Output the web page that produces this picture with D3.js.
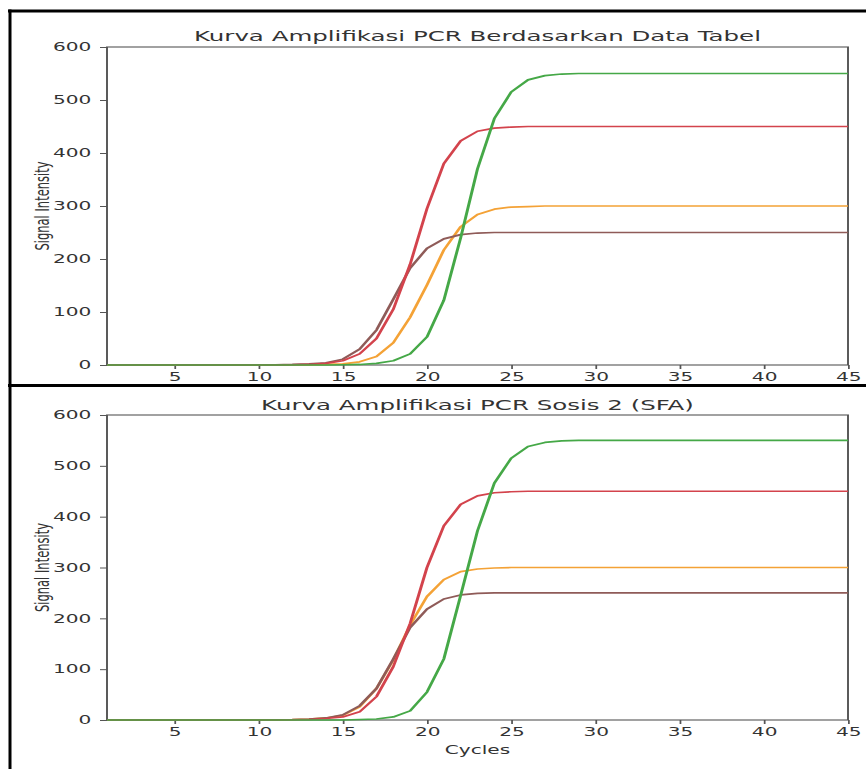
<!DOCTYPE html>
<html>
<head>
<meta charset="utf-8">
<script src="https://cdn.jsdelivr.net/npm/d3@7"></script>
<style>
body { margin: 0; background: #ffffff; }
svg text { font-family: "DejaVu Sans", sans-serif; fill: #333333; }
</style>
</head>
<body>
<svg id="chart" width="866" height="769"></svg>
<script>
var cycles = [1,2,3,4,5,6,7,8,9,10,11,12,13,14,15,16,17,18,19,20,21,22,23,
	24,25,26,27,28,29,30,31,32,33,34,35,36,37,38,39,40,41,42,43,44,45];

// top panel : Kurva Amplifikasi PCR Berdasarkan Data Tabel
var topGreen = [0,0,0,0,0,0,0,0,0,0,0,0,0,0,
	0.5,1,3,8,21,53,122,240,370,465,515,538,546,549,
	550,550,550,550,550,550,550,550,550,550,550,550,550,550,550,550,550];
var topRed = [0,0,0,0,0,0,0,0,0,0,0,
	0.5,1,3,8,21,50,105,190,295,380,423,441,447,449,
	450,450,450,450,450,450,450,450,450,450,450,450,450,450,450,450,450,450,450,450];
var topOrange = [0,0,0,0,0,0,0,0,0,0,0,0,0,
	1,2,6,16,42,90,151,217,261,284,294,298,299,
	300,300,300,300,300,300,300,300,300,300,300,300,300,300,300,300,300,300,300];
var topBrown = [0,0,0,0,0,0,0,0,0,0,
	0.5,1,2,4,11,30,66,124,183,220,238,246,249,
	250,250,250,250,250,250,250,250,250,250,250,250,250,250,250,250,250,250,250,250,250,250];

// bottom panel : Kurva Amplifikasi PCR Sosis 2 (SFA)
var bottomGreen = [0,0,0,0,0,0,0,0,0,0,0,0,0,0,0,
	1,2,6,18,55,120,245,372,466,515,538,546,549,
	550,550,550,550,550,550,550,550,550,550,550,550,550,550,550,550,550];
var bottomRed = [0,0,0,0,0,0,0,0,0,0,0,
	0.5,1,3,6,16,46,105,190,300,382,424,441,447,449,
	450,450,450,450,450,450,450,450,450,450,450,450,450,450,450,450,450,450,450,450];
var bottomOrange = [0,0,0,0,0,0,0,0,0,0,
	0.5,1,2,4,9,26,62,118,187,243,276,292,297,299,
	300,300,300,300,300,300,300,300,300,300,300,300,300,300,300,300,300,300,300,300,300];
var bottomBrown = [0,0,0,0,0,0,0,0,0,0,
	0.5,1,2,4,10,28,62,120,182,218,238,246,249,
	250,250,250,250,250,250,250,250,250,250,250,250,250,250,250,250,250,250,250,250,250,250];

var xTicks = [5,10,15,20,25,30,35,40,45];
var yTicks = [0,100,200,300,400,500,600];
var titles = ["Kurva Amplifikasi PCR Berdasarkan Data Tabel", "Kurva Amplifikasi PCR Sosis 2 (SFA)"];
var yLabel = "Signal Intensity";
var xLabel = "Cycles";

var colors = {green: "#45a847", red: "#d3434c", orange: "#f4a236", brown: "#8f5b58"};

// the source picture was stretched sideways, so everything is drawn narrow and scaled in x
var sx = 1.75;
var svg = d3.select("#chart");
var stage = svg.append("g").attr("transform", "scale(" + sx + ",1)");

function drawPanel(p)
{
	var g = stage.append("g");
	var x = d3.scaleLinear().domain([1, 45]).range([107 / sx, 848 / sx]);
	var y = d3.scaleLinear().domain([0, 600]).range([p.bottom, p.top]);

	var xAxis = g.append("g")
		.attr("transform", "translate(0," + p.bottom + ")")
		.call(d3.axisBottom(x).tickValues(xTicks).tickSize(4).tickPadding(4).tickSizeOuter(0));
	var yAxis = g.append("g")
		.attr("transform", "translate(" + x.range()[0] + ",0)")
		.call(d3.axisLeft(y).tickValues(yTicks).tickSize(4).tickPadding(5).tickSizeOuter(0));

	[xAxis, yAxis].forEach(function(a){
		a.select(".domain").remove();
		a.selectAll("line").attr("stroke", "#555555").attr("stroke-width", 1);
		a.selectAll("text")
			.attr("font-family", "DejaVu Sans")
			.attr("font-size", 11.5)
			.attr("fill", "#333333");
	});

	// frame
	g.append("rect")
		.attr("x", x.range()[0])
		.attr("y", p.top)
		.attr("width", x.range()[1] - x.range()[0])
		.attr("height", p.bottom - p.top)
		.attr("fill", "none")
		.attr("stroke", "#555555")
		.attr("stroke-width", 1.1);

	var line = d3.line()
		.x(function(d){ return x(d.c); })
		.y(function(d){ return y(d.v); });

	p.series.forEach(function(s){
		var pts = cycles.map(function(c, i){ return {c: c, v: s.values[i]}; });
		g.append("path")
			.attr("d", line(pts))
			.attr("fill", "none")
			.attr("stroke", s.color)
			.attr("stroke-width", 1.7)
			.attr("stroke-linejoin", "round");
	});

	g.append("text")
		.attr("x", (x.range()[0] + x.range()[1]) / 2)
		.attr("y", p.titleY)
		.attr("text-anchor", "middle")
		.attr("font-size", 14)
		.text(p.title);

	g.append("text")
		.attr("transform", "translate(" + (p.labelX / sx) + "," + ((p.top + p.bottom) / 2) + ") rotate(-90)")
		.attr("text-anchor", "middle")
		.attr("font-size", 11.5)
		.text(yLabel);

	if (p.xLabel){
		g.append("text")
			.attr("x", (x.range()[0] + x.range()[1]) / 2)
			.attr("y", p.xLabelY)
			.attr("text-anchor", "middle")
			.attr("font-size", 11.5)
			.text(p.xLabel);
	}
}

drawPanel({
	top: 47, bottom: 365, titleY: 41, labelX: 49, title: titles[0],
	series: [
		{values: topOrange, color: colors.orange},
		{values: topBrown, color: colors.brown},
		{values: topRed, color: colors.red},
		{values: topGreen, color: colors.green}
	]
});

drawPanel({
	top: 415, bottom: 720, titleY: 410, labelX: 49, title: titles[1],
	xLabel: xLabel, xLabelY: 754,
	series: [
		{values: bottomOrange, color: colors.orange},
		{values: bottomBrown, color: colors.brown},
		{values: bottomRed, color: colors.red},
		{values: bottomGreen, color: colors.green}
	]
});

// black outlines round the two pasted images
var borders = [
	{x1: 8, y1: 11, x2: 866, y2: 11},
	{x1: 10, y1: 9.5, x2: 10, y2: 769},
	{x1: 8, y1: 385.5, x2: 866, y2: 385.5}
];
svg.selectAll(".border")
	.data(borders)
	.enter()
	.append("line")
	.attr("class", "border")
	.attr("x1", function(d){ return d.x1; })
	.attr("y1", function(d){ return d.y1; })
	.attr("x2", function(d){ return d.x2; })
	.attr("y2", function(d){ return d.y2; })
	.attr("stroke", "#000000")
	.attr("stroke-width", 3);
</script>
</body>
</html>
